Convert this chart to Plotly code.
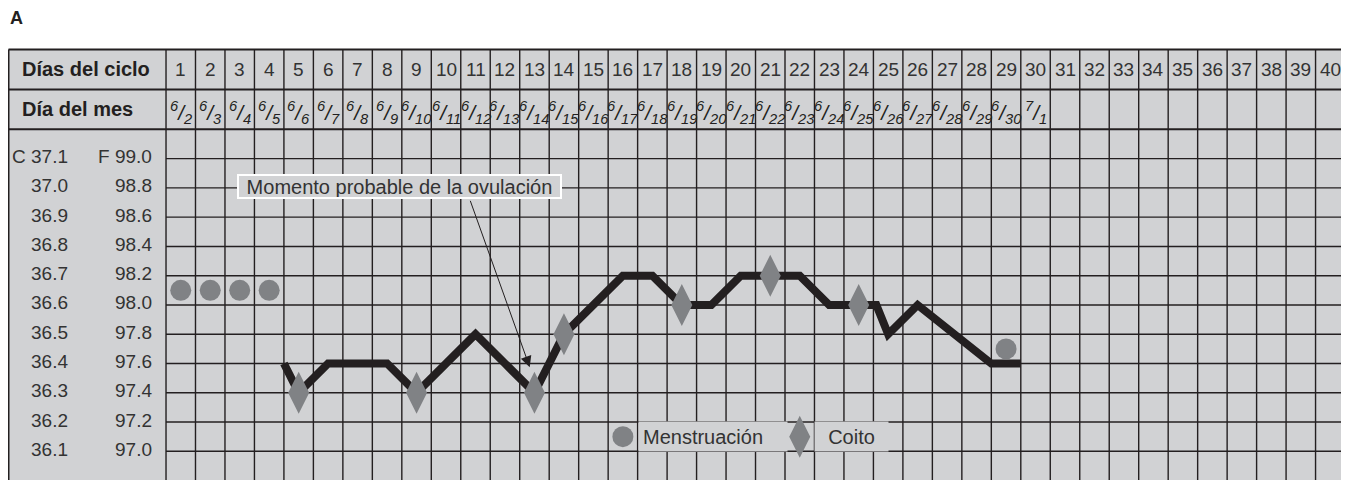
import plotly.graph_objects as go

# ── Data ──────────────────────────────────────────────────────────────────────

CYCLE_DAYS = list(range(1, 41))                          # "Días del ciclo" header
MONTH_DATES = [                                          # "Día del mes" for cycle days 1..30
    "6/2", "6/3", "6/4", "6/5", "6/6", "6/7", "6/8", "6/9", "6/10", "6/11",
    "6/12", "6/13", "6/14", "6/15", "6/16", "6/17", "6/18", "6/19", "6/20", "6/21",
    "6/22", "6/23", "6/24", "6/25", "6/26", "6/27", "6/28", "6/29", "6/30", "7/1",
]
TEMP_C = ["37.1", "37.0", "36.9", "36.8", "36.7", "36.6", "36.5", "36.4", "36.3", "36.2", "36.1"]
TEMP_F = [99.0, 98.8, 98.6, 98.4, 98.2, 98.0, 97.8, 97.6, 97.4, 97.2, 97.0]

BBT_DAYS = [4.5, 5, 6, 7, 8, 9, 10, 11, 12, 13, 14, 15, 16, 17, 18, 19, 20,
            21, 22, 23, 24, 24.6, 25, 26, 28.5, 29.5]
BBT_F = [97.6, 97.4, 97.6, 97.6, 97.6, 97.4, 97.6, 97.8, 97.6, 97.4, 97.8, 98.0, 98.2,
         98.2, 98.0, 98.0, 98.2, 98.2, 98.2, 98.0, 98.0, 98.0, 97.8, 98.0, 97.6, 97.6]

MENSES_DAYS = [1, 2, 3, 4, 29]
MENSES_F = [98.1, 98.1, 98.1, 98.1, 97.7]

COITUS_DAYS = [5, 9, 13, 14, 18, 21, 24]
COITUS_F = [97.4, 97.4, 97.4, 97.8, 98.0, 98.2, 98.0]

OVULATION_NOTE = "Momento probable de la ovulación"

# ── Style / geometry ──────────────────────────────────────────────────────────

FONT = "Liberation Sans, Arial, Helvetica, sans-serif"
INK = "#231f20"          # line / text colour
TXT = "#333333"
PAPER_GRAY = "#d1d2d4"   # chart background
MARK_GRAY = "#808285"    # circles and diamonds

GRID_LEFT, GRID_RIGHT = 0.5, 40.5   # day columns
LABEL_LEFT = -4.844                 # left edge of label column (day units)
STEP = 0.2                          # one grid row in F
TOP_GRID = TEMP_F[0] + STEP         # 99.2
HEADER_H = 0.273                    # header row height in F units
ROW1_BOTTOM = TOP_GRID + HEADER_H
TABLE_TOP = TOP_GRID + 2 * HEADER_H
Y_BOTTOM = 96.70

fig = go.Figure()

# ── Marks ─────────────────────────────────────────────────────────────────────

fig.add_trace(go.Scatter(
    x=BBT_DAYS, y=BBT_F, mode="lines", name="Temperatura",
    line=dict(color=INK, width=8), showlegend=False,
))
fig.add_trace(go.Scatter(
    x=MENSES_DAYS, y=MENSES_F, mode="markers", name="Menstruación",
    marker=dict(symbol="circle", size=21, color=MARK_GRAY), showlegend=False,
))
fig.add_trace(go.Scatter(
    x=COITUS_DAYS, y=COITUS_F, mode="markers", name="Coito",
    marker=dict(symbol="diamond-tall", size=30, color=MARK_GRAY), showlegend=False,
))

# legend keys drawn inside the grid (row between 97.2 and 97.0)
LEGEND_Y = 97.1
fig.add_trace(go.Scatter(
    x=[16], y=[LEGEND_Y], mode="markers", hoverinfo="skip", showlegend=False,
    marker=dict(symbol="circle", size=21, color=MARK_GRAY),
))
fig.add_trace(go.Scatter(
    x=[22], y=[LEGEND_Y], mode="markers", hoverinfo="skip", showlegend=False,
    marker=dict(symbol="diamond-tall", size=30, color=MARK_GRAY),
))

# ── Table: background, grid, borders ──────────────────────────────────────────

shapes = [dict(type="rect", xref="x", yref="y", layer="below",
               x0=LABEL_LEFT, x1=GRID_RIGHT, y0=Y_BOTTOM, y1=TABLE_TOP,
               fillcolor=PAPER_GRAY, line=dict(width=0))]

for d in CYCLE_DAYS:                                     # vertical column lines
    shapes.append(dict(type="line", xref="x", yref="y", layer="below",
                       x0=d - 0.5, x1=d - 0.5, y0=Y_BOTTOM, y1=TABLE_TOP,
                       line=dict(color=INK, width=1.4)))

for v in TEMP_F:                                         # horizontal temperature lines
    shapes.append(dict(type="line", xref="x", yref="y", layer="below",
                       x0=GRID_LEFT, x1=GRID_RIGHT, y0=v, y1=v,
                       line=dict(color=INK, width=1.4)))

for v in (TOP_GRID, ROW1_BOTTOM):                        # header row separators
    shapes.append(dict(type="line", xref="x", yref="y", layer="below",
                       x0=LABEL_LEFT, x1=GRID_RIGHT, y0=v, y1=v,
                       line=dict(color=INK, width=2)))

shapes += [                                              # outer border
    dict(type="line", xref="x", yref="y", layer="below", x0=LABEL_LEFT, x1=GRID_RIGHT,
         y0=TABLE_TOP, y1=TABLE_TOP, line=dict(color=INK, width=2)),
    dict(type="line", xref="x", yref="y", layer="below", x0=LABEL_LEFT, x1=LABEL_LEFT,
         y0=Y_BOTTOM, y1=TABLE_TOP, line=dict(color=INK, width=2)),
    dict(type="line", xref="x", yref="y", layer="below", x0=GRID_RIGHT, x1=GRID_RIGHT,
         y0=Y_BOTTOM, y1=TABLE_TOP, line=dict(color=INK, width=2)),
]

# ── Text ──────────────────────────────────────────────────────────────────────

ann = []
row1_y = TOP_GRID + 1.5 * HEADER_H
row2_y = TOP_GRID + 0.5 * HEADER_H

ann.append(dict(x=0, y=1.069, xref="paper", yref="paper", text="<b>A</b>",
                showarrow=False, xanchor="left", yanchor="middle",
                font=dict(family=FONT, size=18, color=INK)))

ann.append(dict(x=-4.454, y=row1_y, text="<b>Días del ciclo</b>", showarrow=False,
                xanchor="left", font=dict(family=FONT, size=20, color=INK)))
ann.append(dict(x=-4.454, y=row2_y, text="<b>Día del mes</b>", showarrow=False,
                xanchor="left", font=dict(family=FONT, size=20, color=INK)))

for d in CYCLE_DAYS:
    ann.append(dict(x=d, y=row1_y, text=str(d), showarrow=False,
                    font=dict(family=FONT, size=19, color=TXT)))

for d, md in zip(CYCLE_DAYS, MONTH_DATES):
    m, dd = md.split("/")
    ann.append(dict(x=d, y=row2_y - 0.02, text=f"<sup>{m}</sup>/<sub>{dd}</sub>",
                    showarrow=False,
                    font=dict(family=FONT, size=21, color=INK, style="italic")))

for i, (c, f) in enumerate(zip(TEMP_C, TEMP_F)):
    c_txt = f"C {c}" if i == 0 else c
    f_txt = f"F {f:.1f}" if i == 0 else f"{f:.1f}"
    ann.append(dict(x=-2.758, y=f, text=c_txt, showarrow=False, xanchor="right",
                    yshift=2, font=dict(family=FONT, size=19, color=TXT)))
    ann.append(dict(x=0.092, y=f, text=f_txt, showarrow=False, xanchor="right",
                    yshift=2, font=dict(family=FONT, size=19, color=TXT)))

# ovulation note and its arrow
ann.append(dict(x=8.415, y=98.807, text=OVULATION_NOTE, showarrow=False,
                bgcolor=PAPER_GRAY, bordercolor="white", borderwidth=2, borderpad=0,
                width=321, height=21,
                font=dict(family=FONT, size=20, color=TXT)))
ann.append(dict(x=12.84, y=97.575, ax=10.805, ay=98.722, axref="x", ayref="y",
                text="", showarrow=True, arrowhead=2, arrowsize=2.2, arrowwidth=1,
                arrowcolor=INK))

# legend labels (boxes hide the grid lines behind the text)
ann.append(dict(x=16.5, y=LEGEND_Y, text="Menstruación", showarrow=False,
                xanchor="left", align="left", bgcolor=PAPER_GRAY, borderpad=4,
                width=140, height=21,
                font=dict(family=FONT, size=20, color=TXT)))
ann.append(dict(x=22.5, y=LEGEND_Y, text="Coito", showarrow=False,
                xanchor="left", bgcolor=PAPER_GRAY, borderpad=4,
                width=65, height=21,
                font=dict(family=FONT, size=20, color=TXT)))

# ── Layout ────────────────────────────────────────────────────────────────────
# the page body adds an 8 px margin, so the figure is 8 px smaller each way

fig.update_layout(
    width=1341, height=472,
    margin=dict(l=0, r=3, t=40, b=0),
    paper_bgcolor="white", plot_bgcolor="white",
    showlegend=False,
    shapes=shapes, annotations=ann,
    xaxis=dict(range=[-4.861, 40.533], visible=False, fixedrange=True),
    yaxis=dict(range=[96.804, 99.756], visible=False, fixedrange=True),
)

fig.write_html("out.html")
